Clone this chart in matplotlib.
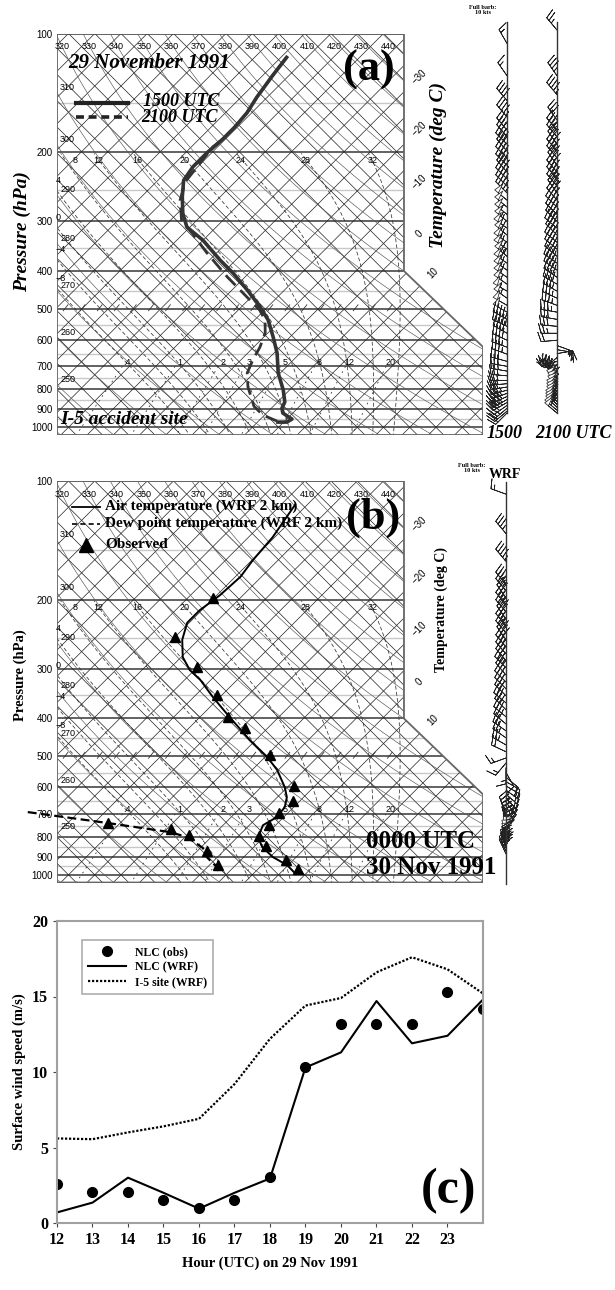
import numpy as np
import matplotlib
matplotlib.use('agg')
import matplotlib.pyplot as plt
from matplotlib.patches import Polygon
from matplotlib.lines import Line2D
from matplotlib.ticker import NullLocator

# ---------------- data ----------------
# (a) I-5 accident site soundings, 29 Nov 1991 (pressure hPa, temperature C)
p_1500 = [115, 128, 145, 159, 173, 186, 201, 218, 236, 260, 286, 310, 335, 376, 406, 448,
          495, 534, 590, 648, 728, 804, 863, 894, 920, 953, 970, 970]
t_1500 = [-58.9, -58.1, -57.0, -55.9, -55.5, -55.5, -55.9, -55.9, -55.1, -52.2, -49.0, -45.6,
          -40.0, -33.0, -28.0, -22.1, -16.4, -12.4, -8.2, -4.4, -0.4, 3.8, 6.4, 7.0, 8.1,
          11.0, 10.6, 8.9]
p_2100 = [115, 128, 145, 159, 173, 186, 194, 218, 238, 265, 298, 321, 361, 415, 467, 504,
          534, 576, 626, 675, 728, 790, 853, 884, 931, 964]
t_2100 = [-58.9, -58.1, -57.0, -55.9, -55.5, -55.5, -55.9, -55.1, -54.5, -52.0, -47.9, -43.5,
          -36.8, -28.4, -20.8, -15.9, -13.0, -10.5, -8.8, -7.7, -6.3, -3.5, -0.2, 1.3, 4.7, 8.5]

# (b) WRF 2 km at NLC, 0000 UTC 30 Nov 1991
p_wrf = [115, 139, 159, 175, 195, 213, 229, 253, 280, 302, 320, 354, 398, 455, 502, 542,
         599, 635, 673, 714, 748, 802, 850, 902, 945, 990]
t_wrf = [-57.3, -55.4, -54.8, -54.0, -54.4, -55.4, -55.4, -53.1, -49.7, -45.9, -42.0, -36.3,
         -29.3, -21.1, -14.6, -10.2, -5.5, -3.2, -1.7, -1.3, -2.4, -1.1, 1.6, 5.6, 9.8, 12.8]
p_wrf_td = [693, 739, 779, 802, 855, 902, 956, 996]
td_wrf = [-49.7, -32.3, -18.8, -14.6, -9.5, -7.0, -3.2, -1.3]
p_obs = [198, 249, 297, 350, 398, 424, 497, 595, 650, 697, 748, 797, 845, 918, 967]
t_obs = [-55.2, -55.0, -45.1, -35.9, -29.7, -24.3, -14.4, -4.0, -1.3, -1.7, -1.3, -1.1, 2.1,
         8.6, 12.6]
p_obs_td = [739, 765, 793, 870, 945]
td_obs = [-32.3, -19.2, -14.6, -8.1, -3.4]

# wind barbs (pressure hPa, speed kt, direction deg)
pb_1500 = [106, 128, 148, 163, 176, 183, 191, 199, 207, 216, 225, 234, 244, 254, 265, 276, 288,
           300, 312, 325, 339, 353, 368, 383, 399, 416, 433, 451, 470, 490, 510, 532, 554, 577,
           601, 626, 652, 680, 700, 720, 740, 760, 775, 790, 805, 820, 835, 850, 865, 880, 895,
           910, 920]
spd_1500 = [15, 15, 40, 45, 35, 35, 40, 35, 40, 40, 45, 40, 45, 45, 50, 50, 55, 55, 60, 60, 60,
            65, 65, 60, 60, 60, 55, 55, 55, 50, 50, 45, 45, 40, 40, 35, 35, 30, 30, 30, 25, 25,
            25, 30, 35, 35, 40, 40, 35, 30, 25, 20, 15]
dir_1500 = [330, 325, 320, 320, 320, 320, 315, 320, 315, 315, 320, 315, 315, 315, 310, 310, 310,
            310, 305, 310, 305, 305, 310, 305, 305, 305, 305, 300, 305, 300, 300, 300, 295, 300,
            295, 290, 290, 285, 280, 280, 275, 270, 265, 260, 255, 250, 245, 240, 240, 235, 230,
            230, 225]
pb_2100 = [98, 128, 143, 166, 176, 183, 191, 199, 207, 216, 225, 234, 244, 254, 265, 276, 288,
           300, 312, 325, 339, 353, 368, 383, 399, 416, 433, 451, 470, 490, 510, 532, 554, 577,
           601, 620, 635, 650, 665, 680, 695, 710, 725, 740, 755, 770, 785, 800, 815, 830, 845,
           860, 875, 890, 905, 920]
spd_2100 = [25, 35, 45, 30, 35, 35, 40, 40, 40, 40, 45, 45, 45, 45, 45, 45, 45, 40, 40, 40, 40,
            40, 40, 40, 40, 40, 40, 35, 35, 35, 35, 30, 30, 25, 20, 15, 15, 20, 20, 25, 25, 30,
            30, 35, 45, 50, 55, 55, 60, 60, 60, 65, 65, 60, 55, 50]
dir_2100 = [320, 325, 320, 325, 320, 320, 325, 320, 320, 325, 320, 320, 320, 325, 320, 315, 315,
            315, 310, 315, 310, 310, 310, 305, 305, 305, 300, 300, 295, 290, 280, 280, 275, 270,
            265, 110, 100, 80, 230, 250, 270, 290, 300, 310, 320, 320, 325, 325, 320, 320, 320,
            315, 315, 315, 310, 310]
pb_wrf = [108, 136, 160, 183, 190, 198, 206, 215, 224, 233, 243, 253, 264, 275, 286, 298, 311,
          324, 337, 351, 366, 381, 397, 414, 431, 449, 468, 487, 505, 520, 535, 550, 565, 580,
          595, 610, 625, 640, 655, 670, 690, 705, 720, 735, 750, 765, 780, 795, 810, 825, 840,
          855, 870, 885]
spd_wrf = [15, 35, 45, 35, 35, 35, 35, 40, 35, 35, 40, 40, 35, 35, 35, 35, 35, 35, 35, 30, 30,
           30, 30, 30, 25, 25, 25, 20, 15, 15, 15, 10, 10, 15, 15, 15, 20, 20, 20, 25, 30, 35,
           40, 40, 45, 45, 50, 50, 50, 45, 45, 40, 35, 30]
dir_wrf = [290, 320, 320, 320, 320, 325, 320, 320, 325, 320, 320, 325, 320, 320, 320, 315, 320,
           315, 315, 315, 310, 315, 310, 310, 305, 305, 300, 295, 250, 220, 180, 150, 130, 120,
           120, 125, 130, 135, 140, 150, 335, 340, 345, 345, 350, 350, 350, 345, 345, 345, 340,
           340, 335, 335]

# (c) surface wind speed (m/s)
hours = [12, 13, 14, 15, 16, 17, 18, 19, 20, 21, 22, 23, 24]
nlc_obs = [2.6, 2.05, 2.05, 1.55, 1.0, 1.55, 3.05, 10.3, 13.2, 13.2, 13.2, 15.3, 14.2]
nlc_wrf = [0.7, 1.35, 3.0, 2.0, 0.95, 2.0, 2.95, 10.3, 11.3, 14.7, 11.9, 12.4, 14.8]
i5_wrf = [5.6, 5.55, 6.0, 6.4, 6.9, 9.2, 12.2, 14.4, 14.9, 16.6, 17.6, 16.8, 15.2]

plevels = [100, 200, 300, 400, 500, 600, 700, 800, 900, 1000]
plevels_minor = [150, 250, 350, 450, 550, 650, 750, 850, 950]
theta_top = [320, 330, 340, 350, 360, 370, 380, 390, 400, 410, 420, 430, 440]
theta_left = [250, 260, 270, 280, 290, 300, 310]
thw_lines = [-8, -4, 0, 4, 8, 12, 16, 20, 24, 28, 32]
mix_lines = [0.4, 1, 2, 3, 5, 8, 12, 20]
mix_labels = ['.4', '1', '2', '3', '5', '8', '12', '20']
t_right = [-30, -20, -10, 0, 10]

# ---------------- figure ----------------
W, H = 615, 1290
fig = plt.figure(figsize=(W / 100, H / 100), dpi=100)
SERIF = ['Liberation Serif', 'DejaVu Serif']
SANS = ['Liberation Sans', 'DejaVu Sans']

K = 32.57          # skew: x units per ln(p)
XMIN, XMAX = -32.19, 48.95
PTOP, PBOT = 100, 1046


def skx(T, p):
    return np.asarray(T) + K * np.log(1000.0 / np.asarray(p, dtype=float))


def px_axes(left, top, right, bottom):
    return fig.add_axes([left / W, 1 - bottom / H, (right - left) / W, (bottom - top) / H])


def ftext(x, y, s, **kw):
    fig.text(x / W, 1 - y / H, s, **kw)


def moist_curve(thw):
    Rd, cp, Lv, eps = 287.04, 1005.7, 2.501e6, 0.622

    def grad(T, p):
        es = 6.112 * np.exp(17.67 * (T - 273.15) / (T - 29.65))
        rs = eps * es / (p - es)
        return (Rd * T + Lv * rs) / (cp + Lv * Lv * rs * eps / (Rd * T * T))

    out = {}
    for lo in (np.log(100.0), np.log(1060.0)):
        lnp = np.linspace(np.log(1000.0), lo, 300)
        T = np.empty_like(lnp)
        T[0] = thw + 273.15
        for i in range(1, len(lnp)):
            h = lnp[i] - lnp[i - 1]
            k1 = grad(T[i - 1], np.exp(lnp[i - 1]))
            k2 = grad(T[i - 1] + h * k1, np.exp(lnp[i]))
            T[i] = T[i - 1] + 0.5 * h * (k1 + k2)
        out[lo] = (np.exp(lnp), T - 273.15)
    pu, tu = out[np.log(100.0)]
    pd, td = out[np.log(1060.0)]
    p = np.concatenate([pd[::-1], pu[1:]])
    t = np.concatenate([td[::-1], tu[1:]])
    return p, t


def draw_skewt(ax):
    ax.set_yscale('log')
    ax.set_ylim(PBOT, PTOP)
    ax.set_xlim(XMIN, XMAX)
    for s in ax.spines.values():
        s.set_visible(False)
    ax.set_xticks([])
    ax.set_yticks(plevels)
    ax.set_yticklabels([str(p) for p in plevels], fontsize=7, family=SANS)
    ax.yaxis.set_minor_locator(NullLocator())
    ax.tick_params(axis='y', length=0, pad=3)

    verts = [(XMIN, PTOP), (33.9, PTOP), (33.9, 401), (XMAX, 625), (XMAX, PBOT), (XMIN, PBOT)]
    frame = Polygon(verts, closed=True, fill=False, edgecolor='#666666', lw=1.3, zorder=6)
    ax.add_patch(frame)

    def clipped(x, y, **kw):
        ln, = ax.plot(x, y, **kw)
        ln.set_clip_path(frame)

    for p in plevels_minor:
        clipped([XMIN, XMAX], [p, p], color='#c8c8c8', lw=1.0, zorder=1)
    for p in plevels:
        clipped([XMIN, XMAX], [p, p], color='#555555', lw=1.3, zorder=2)

    pp2 = np.array([1060.0, 95.0])
    for T in np.arange(-115, 55, 5):
        clipped(skx(T, pp2), pp2, color='#222222', lw=0.5, zorder=2)
    for C in np.arange(-35, 130, 5):
        clipped(C - K * np.log(1000.0 / pp2), pp2, color='#222222', lw=0.5, zorder=2)

    pp = np.geomspace(95, 1060, 80)
    for th in range(220, 470, 10):
        T = th * (pp / 1000.0) ** 0.2857 - 273.15
        clipped(skx(T, pp), pp, color='#555555', lw=0.45, zorder=2)

    for thw in thw_lines:
        p, t = moist_curve(thw)
        sel = p >= 200
        clipped(skx(t[sel], p[sel]), p[sel], color='#333333', lw=0.55,
                dashes=(5, 3), zorder=2)
        xs = skx(t, p)
        if thw >= 8:
            x200 = np.interp(np.log(200), np.log(p[::-1]), xs[::-1])
            ax.text(max(x200 + 1.0, -28.8), 210, str(thw), fontsize=6.5, family=SANS,
                    ha='center', va='center', zorder=7)
        else:
            idx = np.where(np.diff(np.sign(xs - XMIN)))[0]
            if len(idx):
                pc = p[idx[0]]
                ax.text(XMIN - 0.2, pc * 0.965, str(thw).replace('-', '\u2212'),
                        fontsize=6.5, family=SANS, ha='left', va='bottom', zorder=7)

    ppm = np.geomspace(700, 1060, 20)
    for w, lab in zip(mix_lines, mix_labels):
        e = (w / 1000.0) * ppm / (0.622 + w / 1000.0)
        a = np.log(e / 6.112)
        td = 243.5 * a / (17.67 - a)
        clipped(skx(td, ppm), ppm, color='#333333', lw=0.6, dashes=(2, 5), zorder=2)
        ax.text(skx(td[0], 700) + 0.8, 683, lab, fontsize=6.5, family=SANS,
                ha='center', va='center', zorder=7)

    for th in theta_top:
        T = th * 0.1 ** 0.2857 - 273.15
        ax.text(skx(T, 100) + 1.2, 108, str(th), fontsize=6.5, family=SANS,
                ha='center', va='center', zorder=7)
    for th in theta_left:
        T = th * (pp / 1000.0) ** 0.2857 - 273.15
        xs = skx(T, pp)
        pc = np.interp(XMIN, xs, pp)
        ax.text(XMIN + 0.6, pc * 0.995, str(th), fontsize=6.5, family=SANS,
                ha='left', va='bottom', zorder=7)

    for T in t_right:
        xd = (433 - 226) / 5.25 if T == 10 else (419 - 226) / 5.25
        p = 1000.0 * np.exp(-(xd - T) / K)
        ax.text(xd, p, str(T).replace('-', '\u2212'), fontsize=7, family=SANS,
                rotation=45, ha='center', va='center', clip_on=False)

    xs = np.arange(-31, 32, 3.25)
    for x in xs:
        clipped([x, x + 0.9], [500 * np.exp(2 / 171), 500 * np.exp(-4 / 171)],
                color='#333333', lw=0.6, zorder=2)


def uv(spd, d):
    r = np.deg2rad(np.asarray(d, dtype=float))
    s = np.asarray(spd, dtype=float)
    return -s * np.sin(r), -s * np.cos(r)


def barb_axes(top, bottom):
    ax = px_axes(460, top, 610, bottom)
    ax.set_yscale('log')
    ax.set_ylim(PBOT, PTOP)
    ax.set_xlim(460, 610)
    ax.axis('off')
    return ax


def draw_barbs(ax, x, p, spd, d):
    u, v = uv(spd, d)
    ax.barbs(np.full(len(p), x), p, u, v, length=4.8, lw=0.55, barbcolor='#222222',
             flagcolor='white', barb_increments=dict(half=5, full=10, flag=50),
             sizes=dict(spacing=0.22, height=0.6, width=0.3), clip_on=False)


# ---------------- (a) ----------------
ax_a = px_axes(57, 33.5, 483, 435)
draw_skewt(ax_a)
ax_a.plot(skx(t_1500, p_1500), p_1500, color='#333333', lw=2.6, zorder=8)
ax_a.plot(skx(t_2100, p_2100), p_2100, color='#333333', lw=2.0, dashes=(5, 2.5), zorder=8)

ftext(68, 63, '29 November 1991', fontsize=15, family=SERIF, weight='bold', style='italic',
      va='center')
fig.add_artist(Line2D([76 / W, 128 / W], [1 - 103 / H] * 2, color='#222222', lw=3))
fig.add_artist(Line2D([76 / W, 128 / W], [1 - 117 / H] * 2, color='#222222', lw=2.6,
                      dashes=(2.2, 1.3)))
ftext(143, 102, '1500 UTC', fontsize=13, family=SERIF, weight='bold', style='italic',
      va='center')
ftext(141, 118, '2100 UTC', fontsize=13, family=SERIF, weight='bold', style='italic',
      va='center')
ftext(369, 70, '(a)', fontsize=32, family=SERIF, weight='bold', ha='center', va='center')
ftext(60, 419, 'I-5 accident site', fontsize=14, family=SERIF, weight='bold', style='italic',
      va='center')
ftext(22, 232, 'Pressure (hPa)', fontsize=14, family=SERIF, weight='bold', style='italic',
      rotation=90, ha='center', va='center')
ftext(438, 165, 'Temperature (deg C)', fontsize=14, family=SERIF, weight='bold',
      style='italic', rotation=90, ha='center', va='center')

axw_a = barb_axes(33.5, 435)
for xs in (507, 557):
    axw_a.plot([xs, xs], [93.5, 922], color='#333333', lw=1.0, clip_on=False)
draw_barbs(axw_a, 507, pb_1500, spd_1500, dir_1500)
draw_barbs(axw_a, 557, pb_2100, spd_2100, dir_2100)
ftext(483, 10, 'Full barb:\n10 kts', fontsize=4.5, family=SERIF, weight='bold', ha='center',
      va='center', linespacing=0.9)
ftext(505, 433, '1500', fontsize=13, family=SERIF, weight='bold', style='italic',
      ha='center', va='center')
ftext(573, 433, '2100 UTC', fontsize=13, family=SERIF, weight='bold', style='italic',
      ha='center', va='center')

# ---------------- (b) ----------------
ax_b = px_axes(57, 481, 483, 882.5)
draw_skewt(ax_b)
ax_b.plot(skx(t_wrf, p_wrf), p_wrf, color='black', lw=1.4, zorder=8)
ax_b.plot(skx(td_wrf, p_wrf_td), p_wrf_td, color='black', lw=1.6, dashes=(4, 2), zorder=8,
          clip_on=False)
ax_b.plot(skx(t_obs, p_obs), p_obs, ls='none', marker='^', ms=7, color='black', zorder=9,
          clip_on=False)
ax_b.plot(skx(td_obs, p_obs_td), p_obs_td, ls='none', marker='^', ms=7, color='black',
          zorder=9, clip_on=False)

fig.add_artist(Line2D([72 / W, 100 / W], [1 - 507 / H] * 2, color='black', lw=1.3))
fig.add_artist(Line2D([72 / W, 100 / W], [1 - 524 / H] * 2, color='black', lw=1.2,
                      dashes=(3, 2)))
fig.add_artist(Line2D([86 / W], [1 - 545 / H], color='black', marker='^', ms=10, ls='none'))
for yy, s in ((506, 'Air temperature (WRF 2 km)'), (523, 'Dew point temperature (WRF 2 km)'),
              (545, 'Observed')):
    ftext(105, yy, s, fontsize=11, family=SERIF, weight='bold', va='center')
ftext(373, 518, '(b)', fontsize=32, family=SERIF, weight='bold', ha='center', va='center')
ftext(366, 841, '0000 UTC', fontsize=18, family=SERIF, weight='bold', va='center')
ftext(366, 868, '30 Nov 1991', fontsize=18, family=SERIF, weight='bold', va='center')
ftext(20, 675, 'Pressure (hPa)', fontsize=10.5, family=SERIF, weight='bold', rotation=90,
      ha='center', va='center')
ftext(441, 610, 'Temperature (deg C)', fontsize=10, family=SERIF, weight='bold', rotation=90,
      ha='center', va='center')

axw_b = barb_axes(481, 882.5)
axw_b.plot([506, 506], [100.6, 1055], color='#333333', lw=1.0, clip_on=False)
draw_barbs(axw_b, 506, pb_wrf, spd_wrf, dir_wrf)
ftext(472, 468, 'Full barb:\n10 kts', fontsize=4.5, family=SERIF, weight='bold', ha='center',
      va='center', linespacing=0.9)
ftext(505, 475, 'WRF', fontsize=10, family=SERIF, weight='bold', ha='center', va='center')

# ---------------- (c) ----------------
ax_c = px_axes(57, 921, 483, 1223)
ax_c.plot(hours, nlc_obs, ls='none', marker='o', ms=7, color='black', label='NLC (obs)')
ax_c.plot(hours, nlc_wrf, color='black', lw=1.5, label='NLC (WRF)')
ax_c.plot(hours, i5_wrf, color='black', lw=1.6, ls=(0, (1, 0.8)), label='I-5 site (WRF)')
ax_c.set_xlim(12, 24)
ax_c.set_ylim(0, 20)
ax_c.set_xticks(range(12, 24))
ax_c.set_yticks([0, 5, 10, 15, 20])
for s in ax_c.spines.values():
    s.set_color('#a0a0a0')
    s.set_linewidth(1.5)
ax_c.tick_params(direction='out', length=3, color='#444444', width=0.8)
for lab in ax_c.get_xticklabels() + ax_c.get_yticklabels():
    lab.set_family(SERIF)
    lab.set_weight('bold')
    lab.set_fontsize(11.5)
ax_c.set_xlabel('Hour (UTC) on 29 Nov 1991', fontsize=10.5, family=SERIF, weight='bold',
                labelpad=6)
ax_c.set_ylabel('Surface wind speed (m/s)', fontsize=10.5, family=SERIF, weight='bold',
                labelpad=4)
leg = ax_c.legend(loc='upper left', bbox_to_anchor=(0.059, 0.937), borderaxespad=0,
                  fancybox=False, edgecolor='#999999', handlelength=3.2,
                  prop=dict(family=SERIF, weight='bold', size=8.5), borderpad=0.5,
                  labelspacing=0.25)
leg.get_frame().set_linewidth(1.2)
ax_c.text(0.985, 0.03, '(c)', transform=ax_c.transAxes, fontsize=36, family=SERIF,
          weight='bold', ha='right', va='bottom')

fig.savefig('out.png', dpi=100)
